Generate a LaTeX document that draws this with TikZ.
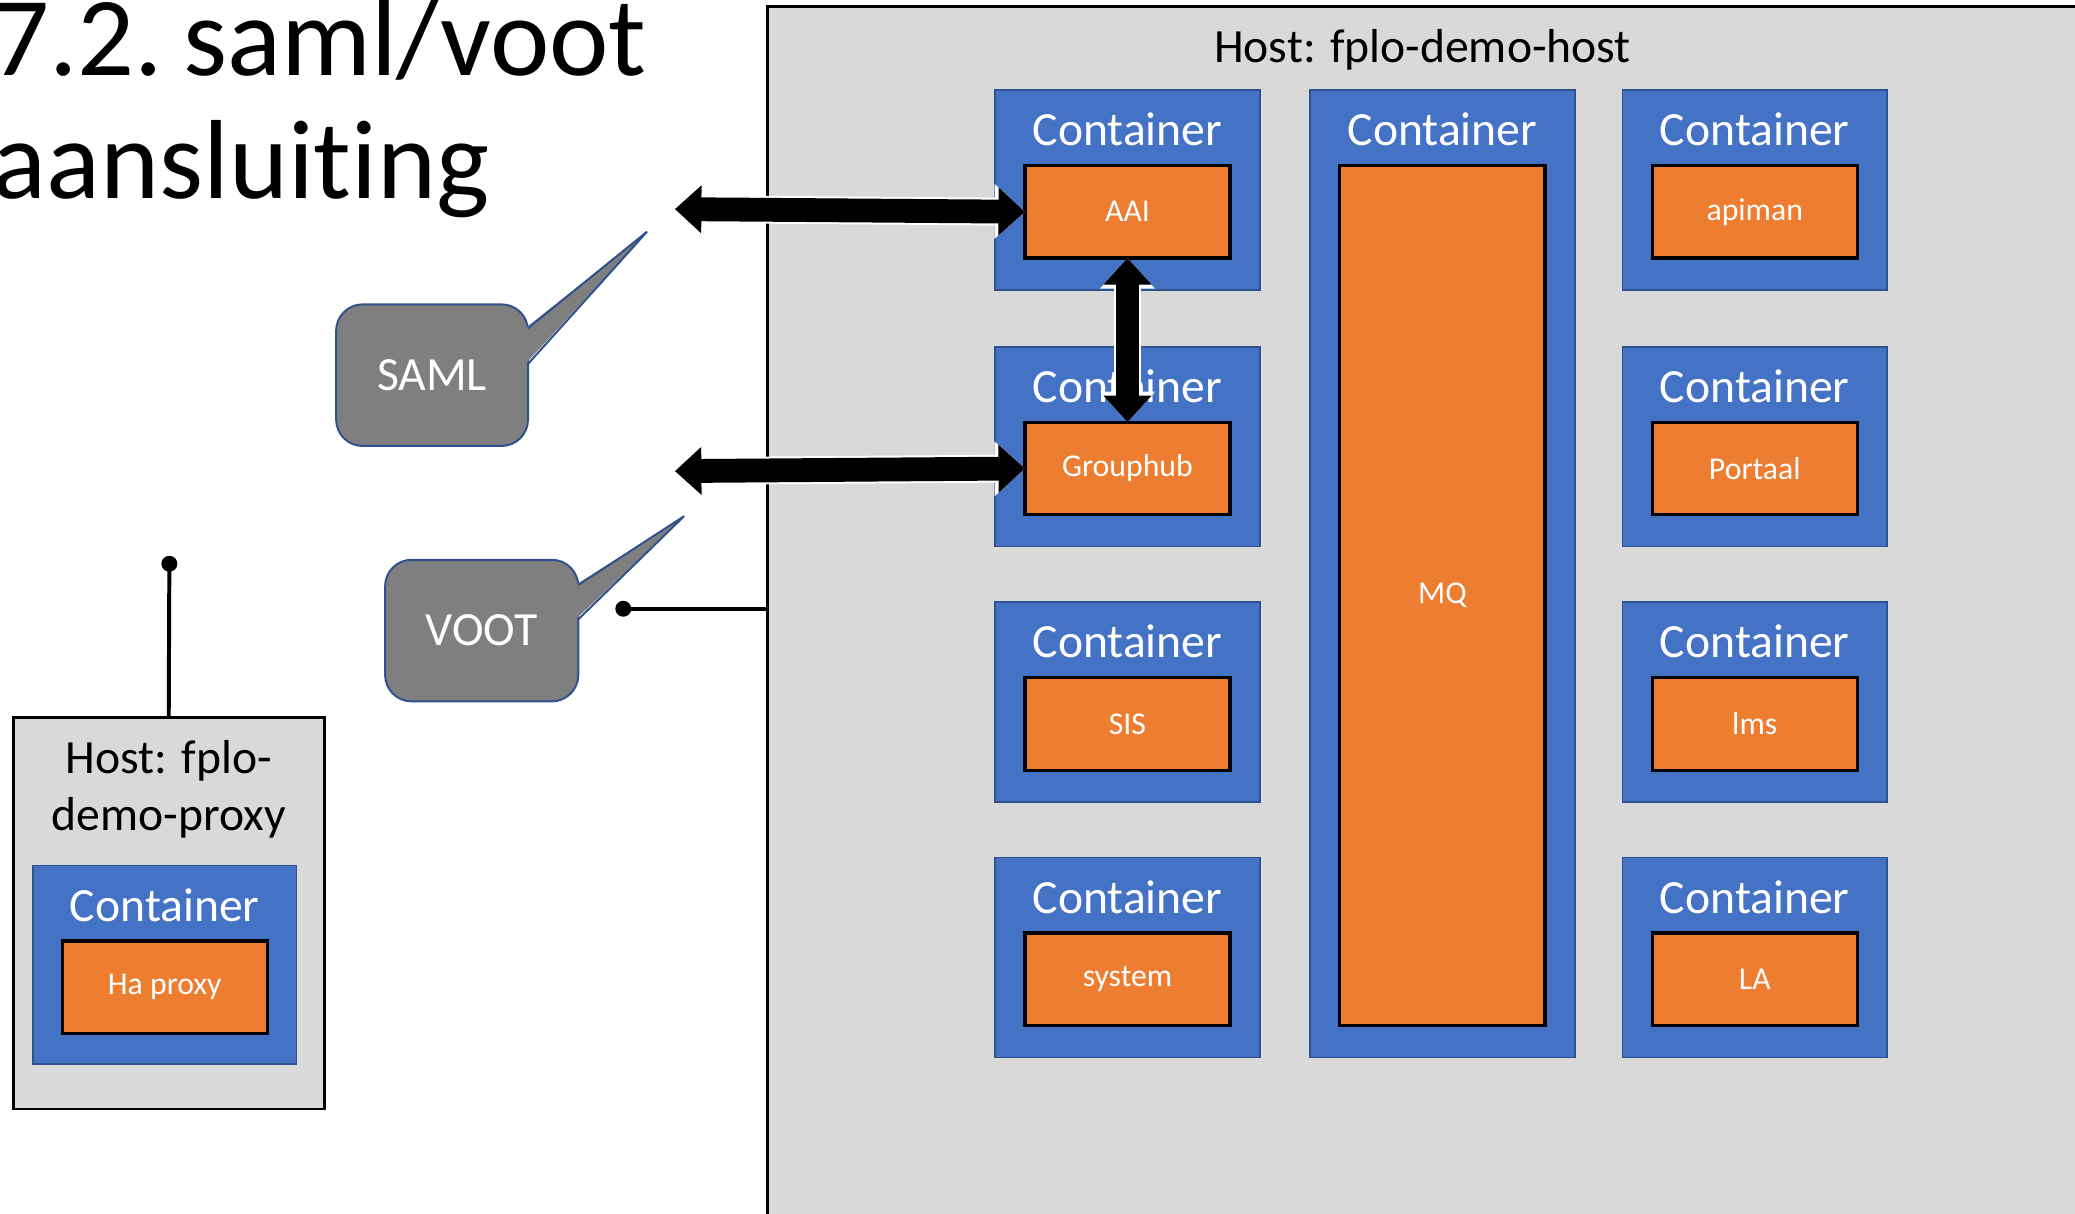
\documentclass[tikz,border=0pt]{standalone}
\usepackage{fontspec}
\setmainfont{Carlito}[Ligatures=NoCommon]
\usepackage{tikz}
\usetikzlibrary{positioning,arrows.meta}
\definecolor{hostgray}{HTML}{D9D9D9}
\definecolor{ctrblue}{HTML}{4472C4}
\definecolor{ctrline}{HTML}{2F528F}
\definecolor{apporange}{HTML}{ED7D31}
\definecolor{bubblegray}{HTML}{7F7F7F}
\tikzset{
  hostbox/.style={draw=black, line width=1pt, fill=hostgray, anchor=north west, inner sep=0pt, outer sep=0pt},
  hosttext/.style={inner sep=0pt, align=center, font=\fontsize{18}{21.5}\selectfont},
  ctr/.style={draw=ctrline, line width=0.6pt, fill=ctrblue, anchor=north west, minimum width=100pt, minimum height=75.5pt, inner sep=0pt, outer sep=0pt},
  ctrlabel/.style={text=white, inner sep=0pt, font=\fontsize{18}{21.5}\selectfont},
  app/.style={draw=black, line width=1.2pt, fill=apporange, text=white, minimum width=77.5pt, minimum height=35pt, inner sep=0pt, outer sep=0pt, font=\fontsize{12}{14}\selectfont},
  bubble/.style={draw=ctrline, line width=0.75pt, fill=bubblegray, text=white, rounded corners=10pt, anchor=north west, inner sep=0pt, outer sep=0pt, font=\fontsize{18}{21.5}\selectfont},
  bubbleedge/.style={draw=ctrline, line width=0.75pt, line join=miter},
  bigarrow/.style={line width=9pt, {Triangle[length=10pt,width=17.5pt]}-{Triangle[length=10pt,width=17.5pt]},
    preaction={draw=white, line width=10.5pt, {Triangle[length=11.5pt,width=20pt]}-{Triangle[length=11.5pt,width=20pt]}}},
  dotline/.style={line width=1.5pt, {Circle[length=6pt]}-},
  titletext/.style={inner sep=0pt, anchor=base west, font=\fontsize{42.5}{46}\selectfont}
}
\begin{document}
\begin{tikzpicture}[x=0.5pt, y=-0.5pt]
      \useasboundingbox (0,0) rectangle (1568,917);
      % Define nodes
      \node[titletext] (title1) at (-6,57) {7.2.\kern-2pt\ saml/voot};
      \node[titletext] (title2) at (-6,150) {aansluiting};

      \node[hostbox, minimum width=495pt, minimum height=470pt] (host) at (580,5) {};
      \node[hosttext, below=8.5pt of host.north] (hostname) {Host: fplo-demo-host};

      \node[ctr] (caai) at (752,68) {};
      \node[ctrlabel, below=8.5pt of caai.north] {Container};
      \node[app, below=28.5pt of caai.north] (aai) {AAI};
      \node[ctr] (cgrp) at (752,262) {};
      \node[ctrlabel, below=8.5pt of cgrp.north] {Container};
      \node[app, below=28.5pt of cgrp.north] (grp) {Grouphub};
      \node[ctr] (csis) at (752,455) {};
      \node[ctrlabel, below=8.5pt of csis.north] {Container};
      \node[app, below=28.5pt of csis.north] (sis) {SIS};
      \node[ctr] (csys) at (752,648) {};
      \node[ctrlabel, below=8.5pt of csys.north] {Container};
      \node[app, below=28.5pt of csys.north] (sys) {system};

      \node[ctr, minimum height=365.5pt] (cmq) at (990,68) {};
      \node[ctrlabel, below=8.5pt of cmq.north] {Container};
      \node[app, minimum height=325pt, below=28.5pt of cmq.north] (mq) {MQ};

      \node[ctr] (capi) at (1226,68) {};
      \node[ctrlabel, below=8.5pt of capi.north] {Container};
      \node[app, below=28.5pt of capi.north] (apiman) {apiman};
      \node[ctr] (cport) at (1226,262) {};
      \node[ctrlabel, below=8.5pt of cport.north] {Container};
      \node[app, below=28.5pt of cport.north] (portaal) {Portaal};
      \node[ctr] (clms) at (1226,455) {};
      \node[ctrlabel, below=8.5pt of clms.north] {Container};
      \node[app, below=28.5pt of clms.north] (lms) {lms};
      \node[ctr] (cla) at (1226,648) {};
      \node[ctrlabel, below=8.5pt of cla.north] {Container};
      \node[app, below=28.5pt of cla.north] (la) {LA};

      \node[hostbox, minimum width=117.5pt, minimum height=148pt] (proxy) at (10,542) {};
      \node[hosttext, below=8.5pt of proxy.north] (proxyname) {Host: fplo-\\demo-proxy};
      \node[ctr, minimum width=99.5pt, minimum height=75pt, anchor=north, below=56pt of proxy.north, xshift=-1.5pt] (cproxy) {};
      \node[ctrlabel, below=8.5pt of cproxy.north] {Container};
      \node[app, below=28.5pt of cproxy.north] (haproxy) {Ha proxy};

      \node[bubble, minimum width=72.5pt, minimum height=53.5pt] (saml) at (254,230) {SAML};
      \node[bubble, minimum width=73pt, minimum height=53.5pt] (voot) at (291,423) {VOOT};
      \coordinate (samltip) at (489,175);
      \coordinate (voottip) at (517,390);
      \coordinate (samlend) at (510,158);
      \coordinate (vootend) at (510,356);
      \coordinate (proxydot) at (128,420);
      \coordinate (hostdot) at (465,460);

      % Connect nodes
      \fill[bubblegray] ([xshift=-1pt,yshift=-9pt]saml.north east) -- (samltip) -- ([xshift=-1pt,yshift=-22.5pt]saml.north east) -- cycle;
      \draw[bubbleedge] ([yshift=-9pt]saml.north east) -- (samltip) -- ([yshift=-22.5pt]saml.north east);
      \fill[bubblegray] ([xshift=-1pt,yshift=-9.5pt]voot.north east) -- (voottip) -- ([xshift=-1pt,yshift=-22.5pt]voot.north east) -- cycle;
      \draw[bubbleedge] ([yshift=-9.5pt]voot.north east) -- (voottip) -- ([yshift=-22.5pt]voot.north east);

      \draw[bigarrow] (samlend) -- (aai.west);
      \draw[bigarrow] (vootend) -- (grp.west);
      \draw[bigarrow] (aai.south) -- (grp.north);

      \draw[dotline] (proxydot) -- (proxy.north);
      \draw[dotline] (hostdot) -- (host.west |- hostdot);
    \end{tikzpicture}
\end{document}
